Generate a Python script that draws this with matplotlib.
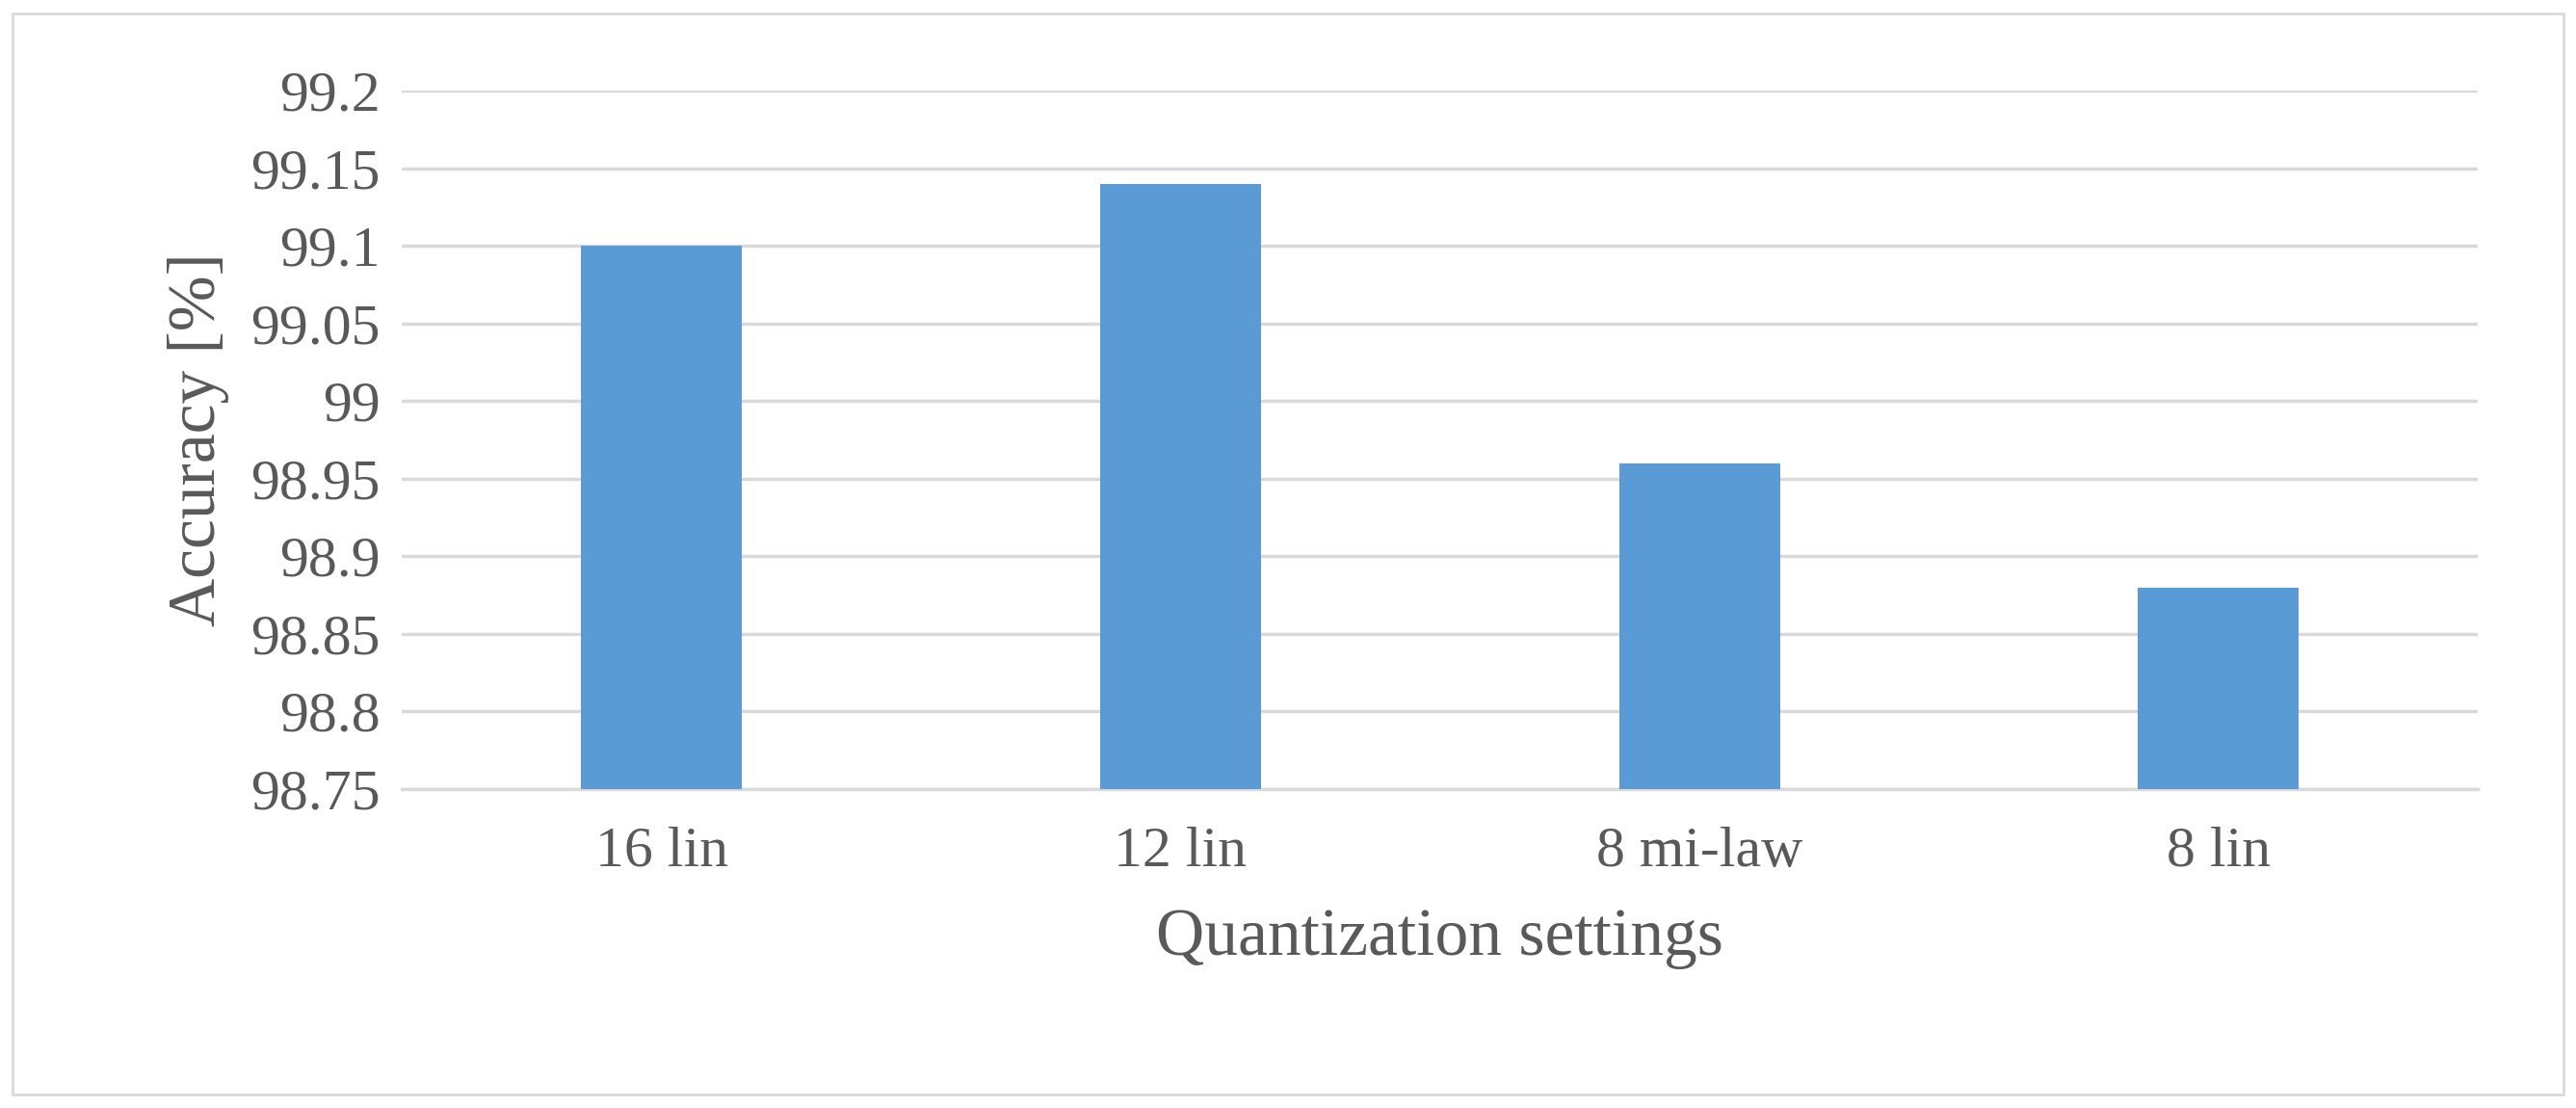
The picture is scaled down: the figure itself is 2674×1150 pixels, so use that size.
import matplotlib
matplotlib.use("Agg")
import matplotlib.pyplot as plt
from matplotlib.patches import Rectangle

categories = ["16 lin", "12 lin", "8 mi-law", "8 lin"]
values = [99.10, 99.14, 98.96, 98.88]
yticks = [98.75, 98.8, 98.85, 98.9, 98.95, 99.0, 99.05, 99.1, 99.15, 99.2]
ytick_labels = ["98.75", "98.8", "98.85", "98.9", "98.95", "99", "99.05", "99.1", "99.15", "99.2"]

plt.rcParams['font.family'] = ['Liberation Serif', 'DejaVu Serif']
fig = plt.figure(figsize=(26.74, 11.5), dpi=100)
fig.patches.append(Rectangle((0.005, 0.012), 0.99, 0.976, transform=fig.transFigure,
                             fill=False, edgecolor='#d9d9d9', linewidth=2))
ax = fig.add_axes([0.156, 0.288, 0.806, 0.630])
x = range(len(categories))
ax.bar(x, values, width=0.31, color='#5b9bd5', zorder=3, bottom=0)
ax.set_ylim(98.75, 99.2)
ax.set_xlim(-0.5, 3.5)
ax.set_yticks(yticks)
ax.set_yticklabels(ytick_labels)
ax.set_xticks(list(x))
ax.set_xticklabels(categories)
ax.grid(axis='y', color='#d9d9d9', linewidth=2.5, zorder=0)
for s in ['top', 'right', 'left']:
    ax.spines[s].set_visible(False)
ax.spines['bottom'].set_color('#d9d9d9')
ax.spines['bottom'].set_linewidth(2.5)
ax.tick_params(axis='y', length=0, labelsize=43, colors='#595959', pad=16)
ax.tick_params(axis='x', length=0, labelsize=43, colors='#595959', pad=28)
ax.set_ylabel("Accuracy [%]", fontsize=50, color='#595959', labelpad=16)
ax.set_xlabel("Quantization settings", fontsize=50, color='#595959', labelpad=22)
fig.savefig("out.png", dpi=100)
